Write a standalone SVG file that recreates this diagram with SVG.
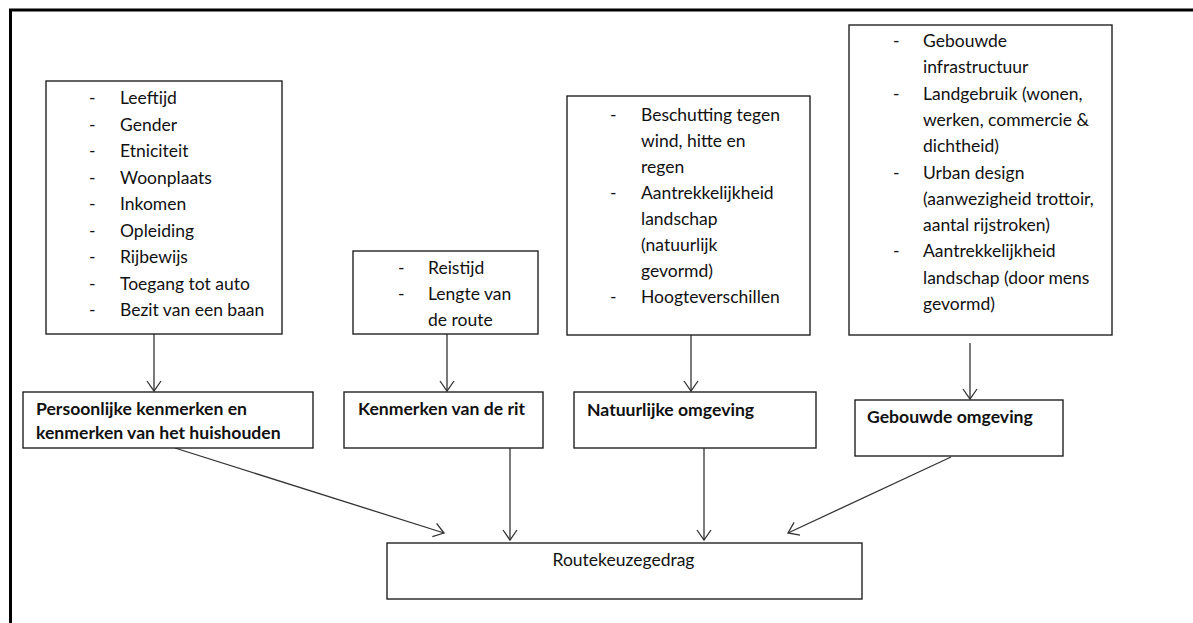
<svg xmlns="http://www.w3.org/2000/svg" width="1193" height="623" viewBox="0 0 1193 623">
<style>
.box{fill:#fff;stroke:#222;stroke-width:1.4}
.t{font-family:Lato,"Liberation Sans",sans-serif;font-size:17.5px;fill:#111}
.b{font-family:Lato,"Liberation Sans",sans-serif;font-size:17.6px;font-weight:bold;fill:#111}
.c{stroke:#333;stroke-width:1.3;fill:none;marker-end:url(#ah)}
</style>
<defs>
<marker id="ah" markerUnits="userSpaceOnUse" markerWidth="24" markerHeight="24" viewBox="-12 -12 24 24" refX="0" refY="0" orient="auto">
<path d="M-10,-7 L0,0 L-10,7" fill="none" stroke="#333" stroke-width="1.3"/>
</marker>
</defs>
<rect width="1193" height="623" fill="#fff"/>
<path d="M10.5,623 L10.5,10 L1193,10" fill="none" stroke="#000" stroke-width="3"/>

<g id="connectors">
<line class="c" x1="154" y1="334" x2="154" y2="391"/>
<line class="c" x1="447" y1="334" x2="447" y2="391"/>
<line class="c" x1="691" y1="335" x2="691" y2="391"/>
<line class="c" x1="970" y1="343" x2="970" y2="399"/>
<line class="c" x1="175" y1="448" x2="444" y2="533"/>
<line class="c" x1="510" y1="448" x2="510" y2="540"/>
<line class="c" x1="704" y1="448" x2="704" y2="540"/>
<line class="c" x1="951" y1="457" x2="788" y2="533"/>
</g>

<g id="persoonlijk-lijst">
<rect class="box" x="46" y="81" width="236" height="253"/>
<g class="t">
<text x="89" y="104">-</text><text x="120" y="104">Leeftijd</text>
<text x="89" y="130.5">-</text><text x="120" y="130.5">Gender</text>
<text x="89" y="157">-</text><text x="120" y="157">Etniciteit</text>
<text x="89" y="183.5">-</text><text x="120" y="183.5">Woonplaats</text>
<text x="89" y="210">-</text><text x="120" y="210">Inkomen</text>
<text x="89" y="236.5">-</text><text x="120" y="236.5">Opleiding</text>
<text x="89" y="263">-</text><text x="120" y="263">Rijbewijs</text>
<text x="89" y="289.5">-</text><text x="120" y="289.5">Toegang tot auto</text>
<text x="89" y="316">-</text><text x="120" y="316">Bezit van een baan</text>
</g>
</g>

<g id="rit-lijst">
<rect class="box" x="353" y="251" width="185" height="83"/>
<g class="t">
<text x="398" y="274">-</text><text x="428" y="274">Reistijd</text>
<text x="398" y="300">-</text><text x="428" y="300">Lengte van</text>
<text x="428" y="326">de route</text>
</g>
</g>

<g id="natuurlijk-lijst">
<rect class="box" x="567" y="96" width="243" height="239"/>
<g class="t">
<text x="610" y="121">-</text><text x="641" y="121">Beschutting tegen</text>
<text x="641" y="147">wind, hitte en</text>
<text x="641" y="173">regen</text>
<text x="610" y="199">-</text><text x="641" y="199">Aantrekkelijkheid</text>
<text x="641" y="225">landschap</text>
<text x="641" y="251">(natuurlijk</text>
<text x="641" y="277">gevormd)</text>
<text x="610" y="303">-</text><text x="641" y="303">Hoogteverschillen</text>
</g>
</g>

<g id="gebouwd-lijst">
<rect class="box" x="849" y="25" width="263" height="310"/>
<g class="t">
<text x="893" y="47">-</text><text x="923" y="47">Gebouwde</text>
<text x="923" y="73.3">infrastructuur</text>
<text x="893" y="99.6">-</text><text x="923" y="99.6">Landgebruik (wonen,</text>
<text x="923" y="125.9">werken, commercie &amp;</text>
<text x="923" y="152.2">dichtheid)</text>
<text x="893" y="178.5">-</text><text x="923" y="178.5">Urban design</text>
<text x="923" y="204.8">(aanwezigheid trottoir,</text>
<text x="923" y="231.1">aantal rijstroken)</text>
<text x="893" y="257.4">-</text><text x="923" y="257.4">Aantrekkelijkheid</text>
<text x="923" y="283.7">landschap (door mens</text>
<text x="923" y="310">gevormd)</text>
</g>
</g>

<g id="persoonlijk">
<rect class="box" x="23" y="392" width="290" height="56"/>
<text class="b" x="36" y="415">Persoonlijke kenmerken en</text>
<text class="b" x="36" y="439">kenmerken van het huishouden</text>
</g>

<g id="rit">
<rect class="box" x="344" y="392" width="199" height="56"/>
<text class="b" x="358" y="415">Kenmerken van de rit</text>
</g>

<g id="natuurlijk">
<rect class="box" x="574" y="392" width="242" height="56"/>
<text class="b" x="587" y="416">Natuurlijke omgeving</text>
</g>

<g id="gebouwd">
<rect class="box" x="855" y="400" width="208" height="56"/>
<text class="b" x="867" y="423">Gebouwde omgeving</text>
</g>

<g id="routekeuze">
<rect class="box" x="387" y="543" width="475" height="56"/>
<text class="t" x="623.5" y="566" text-anchor="middle">Routekeuzegedrag</text>
</g>
</svg>
